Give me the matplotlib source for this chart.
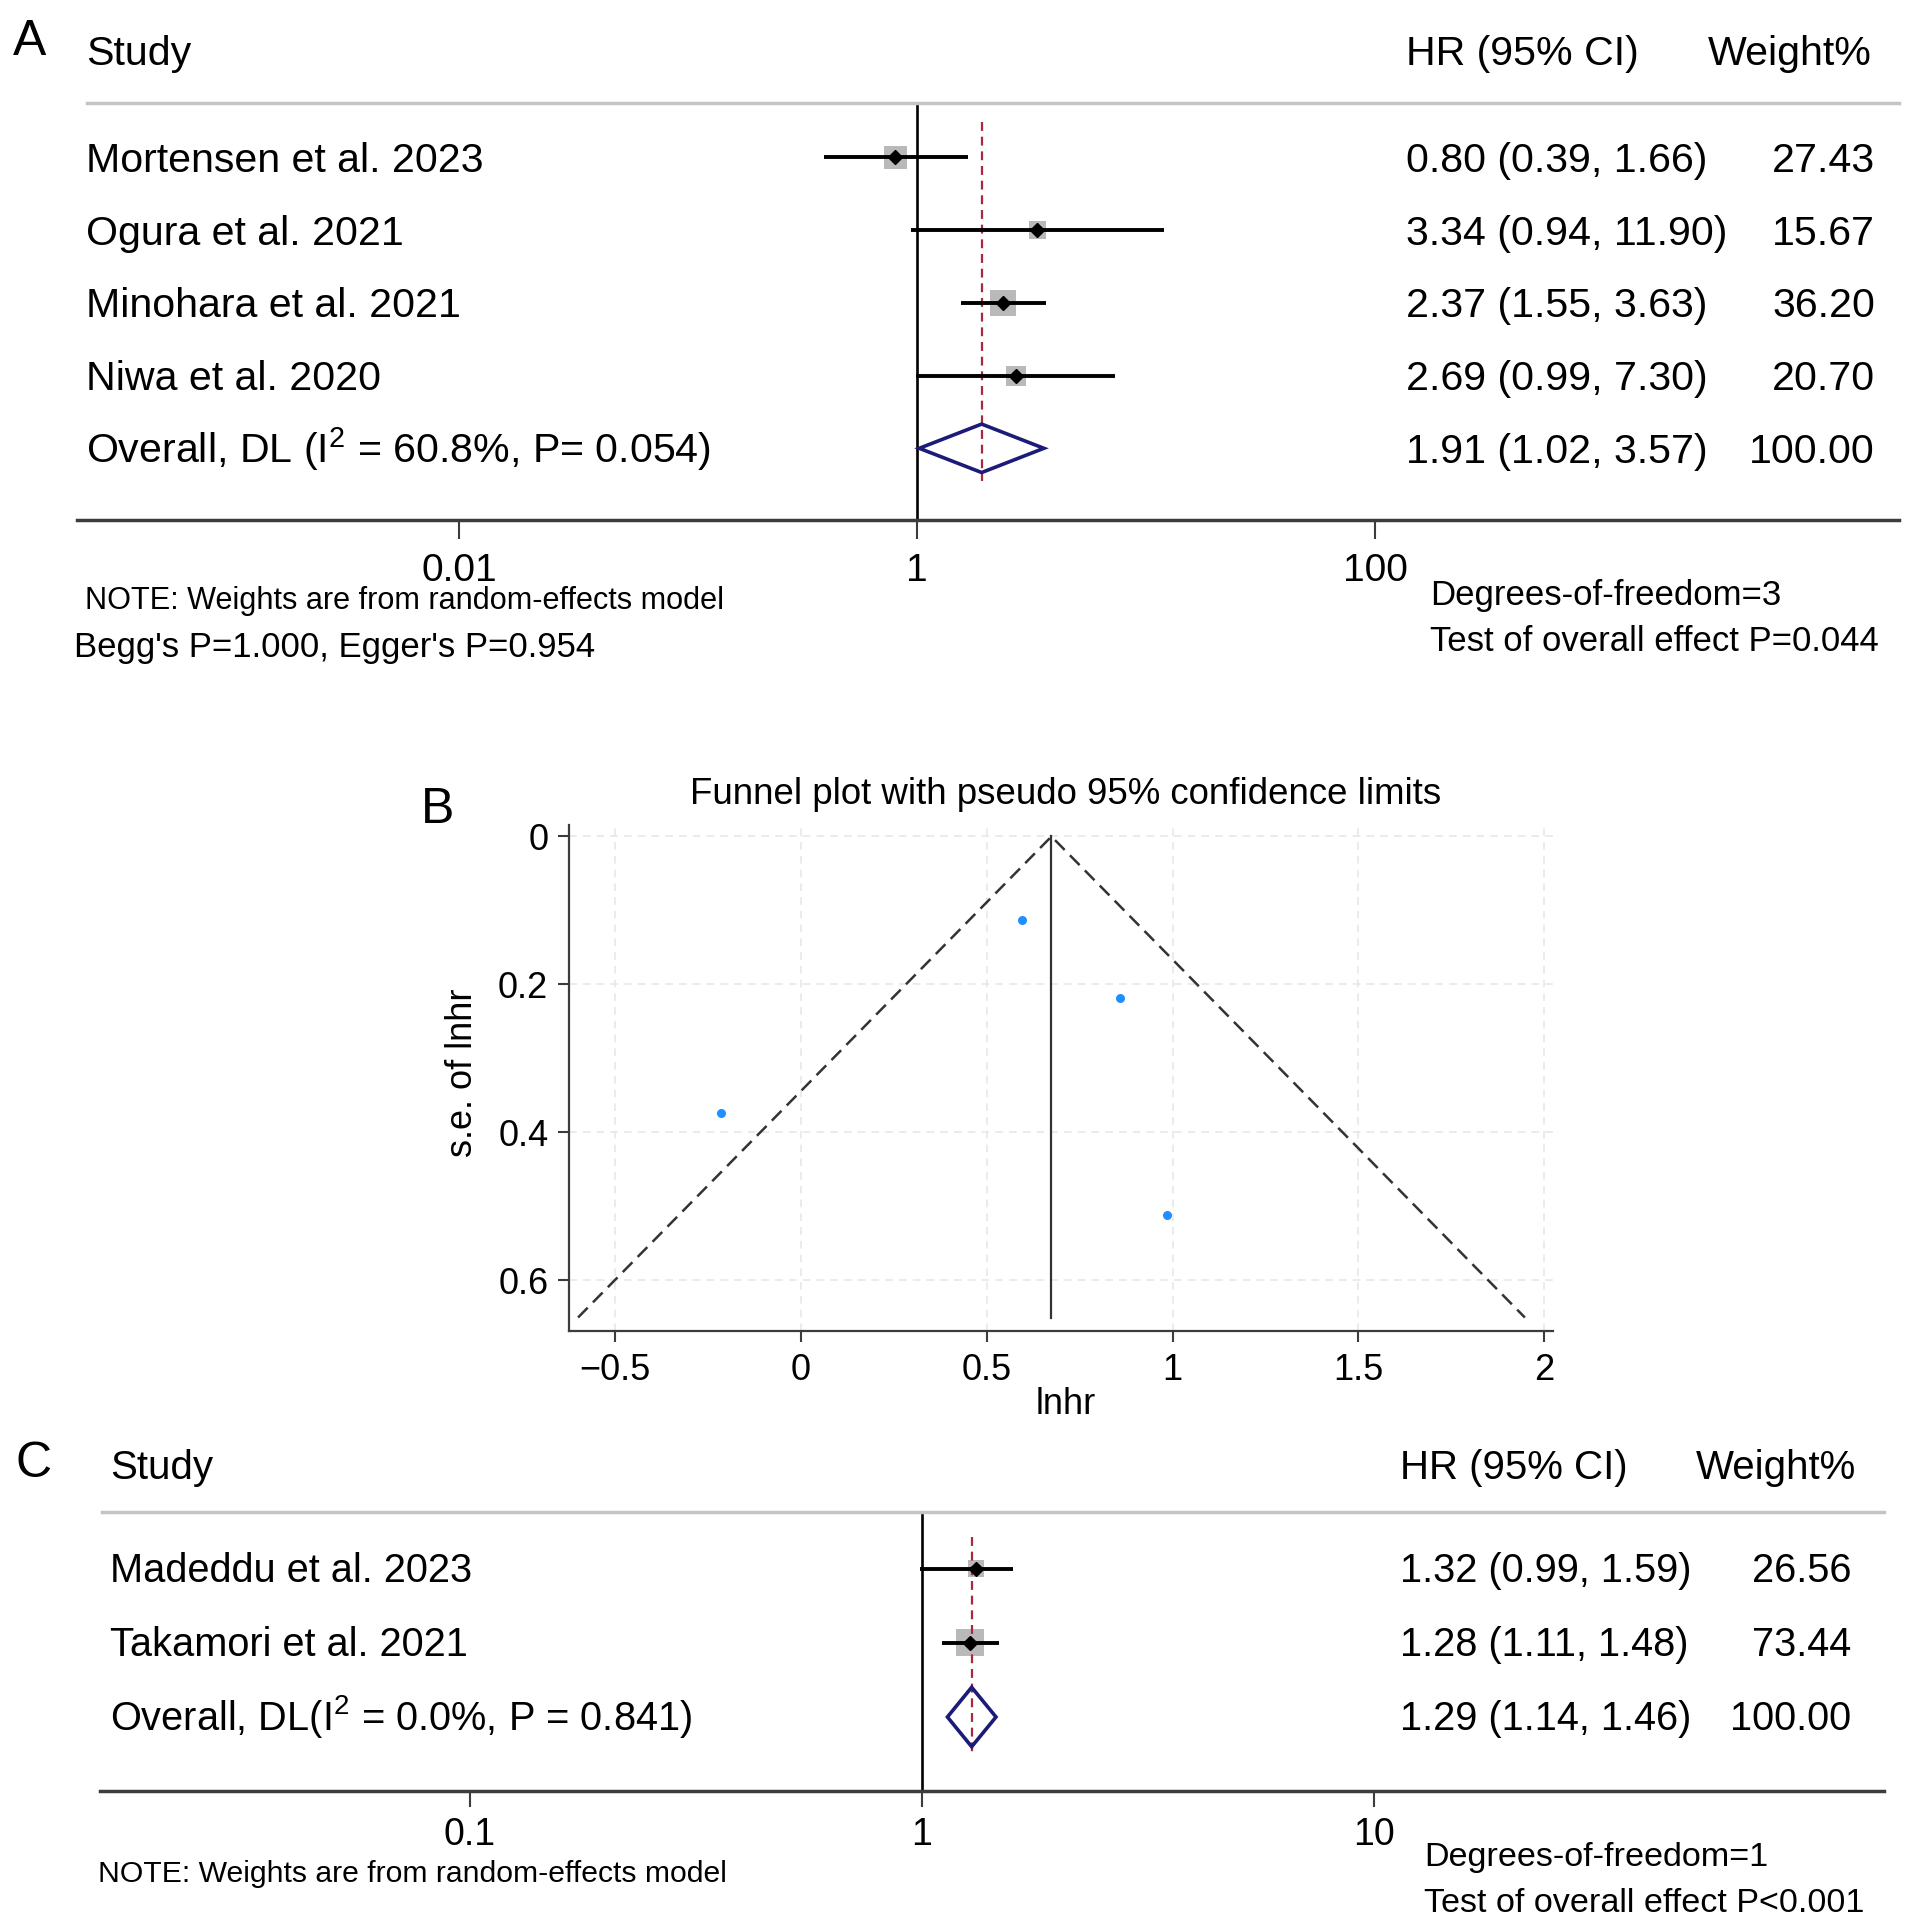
import matplotlib
matplotlib.use('Agg')
import matplotlib.pyplot as plt
import matplotlib.transforms as mtransforms
from matplotlib.patches import Polygon
from matplotlib.ticker import NullLocator
import numpy as np

plt.rcParams['font.family'] = ['Liberation Sans', 'DejaVu Sans']
plt.rcParams['mathtext.fontset'] = 'custom'
plt.rcParams['mathtext.rm'] = 'Liberation Sans'
plt.rcParams['mathtext.it'] = 'Liberation Sans:italic'
plt.rcParams['mathtext.bf'] = 'Liberation Sans:bold'
plt.rcParams['axes.unicode_minus'] = True

# ---- data, panel A (forest plot)
studies_a = ['Mortensen et al. 2023', 'Ogura et al. 2021', 'Minohara et al. 2021', 'Niwa et al. 2020']
hr_a = [0.80, 3.34, 2.37, 2.69]
lo_a = [0.39, 0.94, 1.55, 0.99]
hi_a = [1.66, 11.90, 3.63, 7.30]
wt_a = [27.43, 15.67, 36.20, 20.70]
overall_a = [1.91, 1.02, 3.57]
overall_label_a = r'Overall, DL (I$^2$ = 60.8%, P= 0.054)'
ticks_a = [0.01, 1, 100]
ticklabels_a = ['0.01', '1', '100']

# ---- data, panel B (funnel plot)
lnhr_b = [-0.215, 0.594, 0.858, 0.986]
se_b = [0.373, 0.113, 0.218, 0.511]
pooled_b = 0.674
se_max_b = 0.65
xticks_b = [-0.5, 0, 0.5, 1, 1.5, 2]
xticklabels_b = ['\u22120.5', '0', '0.5', '1', '1.5', '2']
yticks_b = [0, 0.2, 0.4, 0.6]

# ---- data, panel C (forest plot)
studies_c = ['Madeddu et al. 2023', 'Takamori et al. 2021']
hr_c = [1.32, 1.28]
lo_c = [0.99, 1.11]
hi_c = [1.59, 1.48]
wt_c = [26.56, 73.44]
overall_c = [1.29, 1.14, 1.46]
overall_label_c = r'Overall, DL(I$^2$ = 0.0%, P = 0.841)'
ticks_c = [0.1, 1, 10]
ticklabels_c = ['0.1', '1', '10']

W, H = 1913, 1927
fig = plt.figure(figsize=(W / 100, H / 100), dpi=100)

GREY_BOX = '#b9b9b9'
NAVY = '#1c1c78'
RED = '#a8283f'
DARK = '#3c3c3c'


def ftext(x, y, s, **kw):
    # x, y in pixels from the top-left corner
    fig.text(x / W, 1 - y / H, s, **kw)


def forest(rect, one_px, dec_px, row0, row_px, names, hr, lo, hi, wt, overall,
           overall_label, ticks, ticklabels, box_k, diamond_h, ref_span,
           top_from, name_x, hr_x, wt_x, base_off, tick_len, tick_pad, tick_size, fs):
    l, t, r, b = rect
    ax = fig.add_axes([l / W, 1 - b / H, (r - l) / W, (b - t) / H])
    ax.set_xscale('log')
    ax.set_xlim(10 ** ((l - one_px) / dec_px), 10 ** ((r - one_px) / dec_px))
    ax.set_ylim((b - row0) / row_px, (t - row0) / row_px)
    for side in ['left', 'right']:
        ax.spines[side].set_visible(False)
    ax.spines['bottom'].set_color(DARK)
    ax.spines['bottom'].set_linewidth(2.5)
    ax.spines['top'].set_color('#c4c4c4')
    ax.spines['top'].set_linewidth(2.5)
    ax.spines['top'].set_bounds(10 ** ((top_from - one_px) / dec_px), ax.get_xlim()[1])
    ax.set_yticks([])
    ax.set_xticks(ticks)
    ax.set_xticklabels(ticklabels)
    ax.xaxis.set_minor_locator(NullLocator())
    ax.tick_params(axis='x', length=tick_len, width=1.5, color=DARK, pad=tick_pad,
                   labelsize=tick_size)

    rows = np.arange(len(names))
    orow = len(names)

    ax.axvline(1, color='black', lw=1.9, zorder=1)
    ax.scatter(hr, rows, marker='s', s=box_k * np.array(wt), color=GREY_BOX,
               linewidths=0, zorder=2)
    ax.vlines(overall[0], ref_span[0], orow + ref_span[1], colors=RED, lw=1.6,
              linestyles=(0, (4, 2.6)), zorder=2.5)
    ax.hlines(rows, lo, hi, color='black', lw=2.8, zorder=3)
    ax.plot(hr, rows, 'D', color='black', ms=7.5, zorder=4)
    est, dlo, dhi = overall
    ax.add_patch(Polygon([[dlo, orow], [est, orow - diamond_h], [dhi, orow],
                          [est, orow + diamond_h]], closed=True, fill=False,
                         edgecolor=NAVY, lw=2.6, zorder=4))

    tr = mtransforms.blended_transform_factory(fig.transFigure, ax.transData)
    for i, name in enumerate(names):
        ax.text(name_x / W, i + base_off, name, transform=tr, fontsize=fs, va='baseline')
        ax.text(hr_x / W, i + base_off, f'{hr[i]:.2f} ({lo[i]:.2f}, {hi[i]:.2f})',
                transform=tr, fontsize=fs, va='baseline')
        ax.text(wt_x / W, i + base_off, f'{wt[i]:.2f}', transform=tr, fontsize=fs,
                va='baseline', ha='right')
    ax.text(name_x / W, orow + base_off, overall_label, transform=tr, fontsize=fs,
            va='baseline')
    ax.text(hr_x / W, orow + base_off, f'{est:.2f} ({dlo:.2f}, {dhi:.2f})',
            transform=tr, fontsize=fs, va='baseline')
    ax.text(wt_x / W, orow + base_off, f'{sum(wt):.2f}', transform=tr, fontsize=fs,
            va='baseline', ha='right')
    return ax


# ---- panel A
forest((77, 102.7, 1899, 520.4), 917.3, 229, 157.3, 72.75, studies_a, hr_a, lo_a,
       hi_a, wt_a, overall_a, overall_label_a, ticks_a, ticklabels_a, 10.0, 0.333,
       (-0.49, 0.45), 87, 86, 1406.5, 1875, 0.2, 13.5, 10, 28, 29.6)
ftext(13, 55, 'A', fontsize=36, va='baseline')
ftext(86, 65, 'Study', fontsize=29.6, va='baseline')
ftext(1406.5, 64.6, 'HR (95% CI)', fontsize=29.6, va='baseline')
ftext(1872, 64.6, 'Weight%', fontsize=29.6, va='baseline', ha='right')
ftext(84.6, 609, 'NOTE: Weights are from random-effects model', fontsize=22.1, va='baseline')
ftext(73.6, 657, "Begg's P=1.000, Egger's P=0.954", fontsize=25, va='baseline')
ftext(1430, 605, 'Degrees-of-freedom=3', fontsize=25, va='baseline')
ftext(1430, 651, 'Test of overall effect P=0.044', fontsize=25, va='baseline')

# ---- panel B
x0_px, x_unit = 801.0, 371.6
y0_px, y_unit = 836.5, 740.0
bl, br, bt, bb = 569.2, 1553.0, 825.3, 1330.6
axb = fig.add_axes([bl / W, 1 - bb / H, (br - bl) / W, (bb - bt) / H])
axb.set_xlim((bl - x0_px) / x_unit, (br - x0_px) / x_unit)
axb.set_ylim((bb - y0_px) / y_unit, (bt - y0_px) / y_unit)
for side in ['top', 'right']:
    axb.spines[side].set_visible(False)
for side in ['left', 'bottom']:
    axb.spines[side].set_color(DARK)
    axb.spines[side].set_linewidth(1.6)
axb.set_xticks(xticks_b)
axb.set_xticklabels(xticklabels_b)
axb.set_yticks(yticks_b)
axb.set_yticklabels(['0', '0.2', '0.4', '0.6'])
axb.tick_params(axis='both', length=8, width=1.5, color=DARK, labelsize=26)
axb.tick_params(axis='x', pad=8)
axb.tick_params(axis='y', pad=7)
axb.grid(True, color='#e6e6e6', ls=(0, (5, 4)), lw=1.1)
axb.set_axisbelow(True)
half = 1.96 * se_max_b
axb.plot([pooled_b - half, pooled_b, pooled_b + half], [se_max_b, 0, se_max_b],
         color='#333333', lw=1.8, ls=(0, (5.5, 3)))
axb.plot([pooled_b, pooled_b], [0, se_max_b], color='#333333', lw=1.6)
axb.plot(lnhr_b, se_b, 'o', color='#1e90ff', ms=6.5, mew=0)

ftext(1066, 804, 'Funnel plot with pseudo 95% confidence limits', fontsize=26.4,
      ha='center', va='baseline')
ftext(421, 823, 'B', fontsize=36, va='baseline')
ftext(1066, 1414, 'lnhr', fontsize=26, ha='center', va='baseline')
ftext(462, 1073, 's.e. of lnhr', fontsize=26, ha='center', va='center', rotation=90)

# ---- panel C
forest((100, 1512.4, 1884, 1791.3), 921.7, 452, 1568.5, 74.25, studies_c, hr_c, lo_c,
       hi_c, wt_c, overall_c, overall_label_c, ticks_c, ticklabels_c, 5.3, 0.4,
       (-0.43, 0.49), 101.7, 110, 1400, 1851, 0.18, 11.5, 7, 27, 28.6)
ftext(15, 1477, 'C', fontsize=36, va='baseline')
ftext(110, 1478.7, 'Study', fontsize=29, va='baseline')
ftext(1400, 1479, 'HR (95% CI)', fontsize=29, va='baseline')
ftext(1856, 1479, 'Weight%', fontsize=29, va='baseline', ha='right')
ftext(98, 1882, 'NOTE: Weights are from random-effects model', fontsize=21.7, va='baseline')
ftext(1424, 1866, 'Degrees-of-freedom=1', fontsize=24.6, va='baseline')
ftext(1424, 1912, 'Test of overall effect P<0.001', fontsize=24.6, va='baseline')

fig.savefig('out.png', dpi=100, facecolor='white')
